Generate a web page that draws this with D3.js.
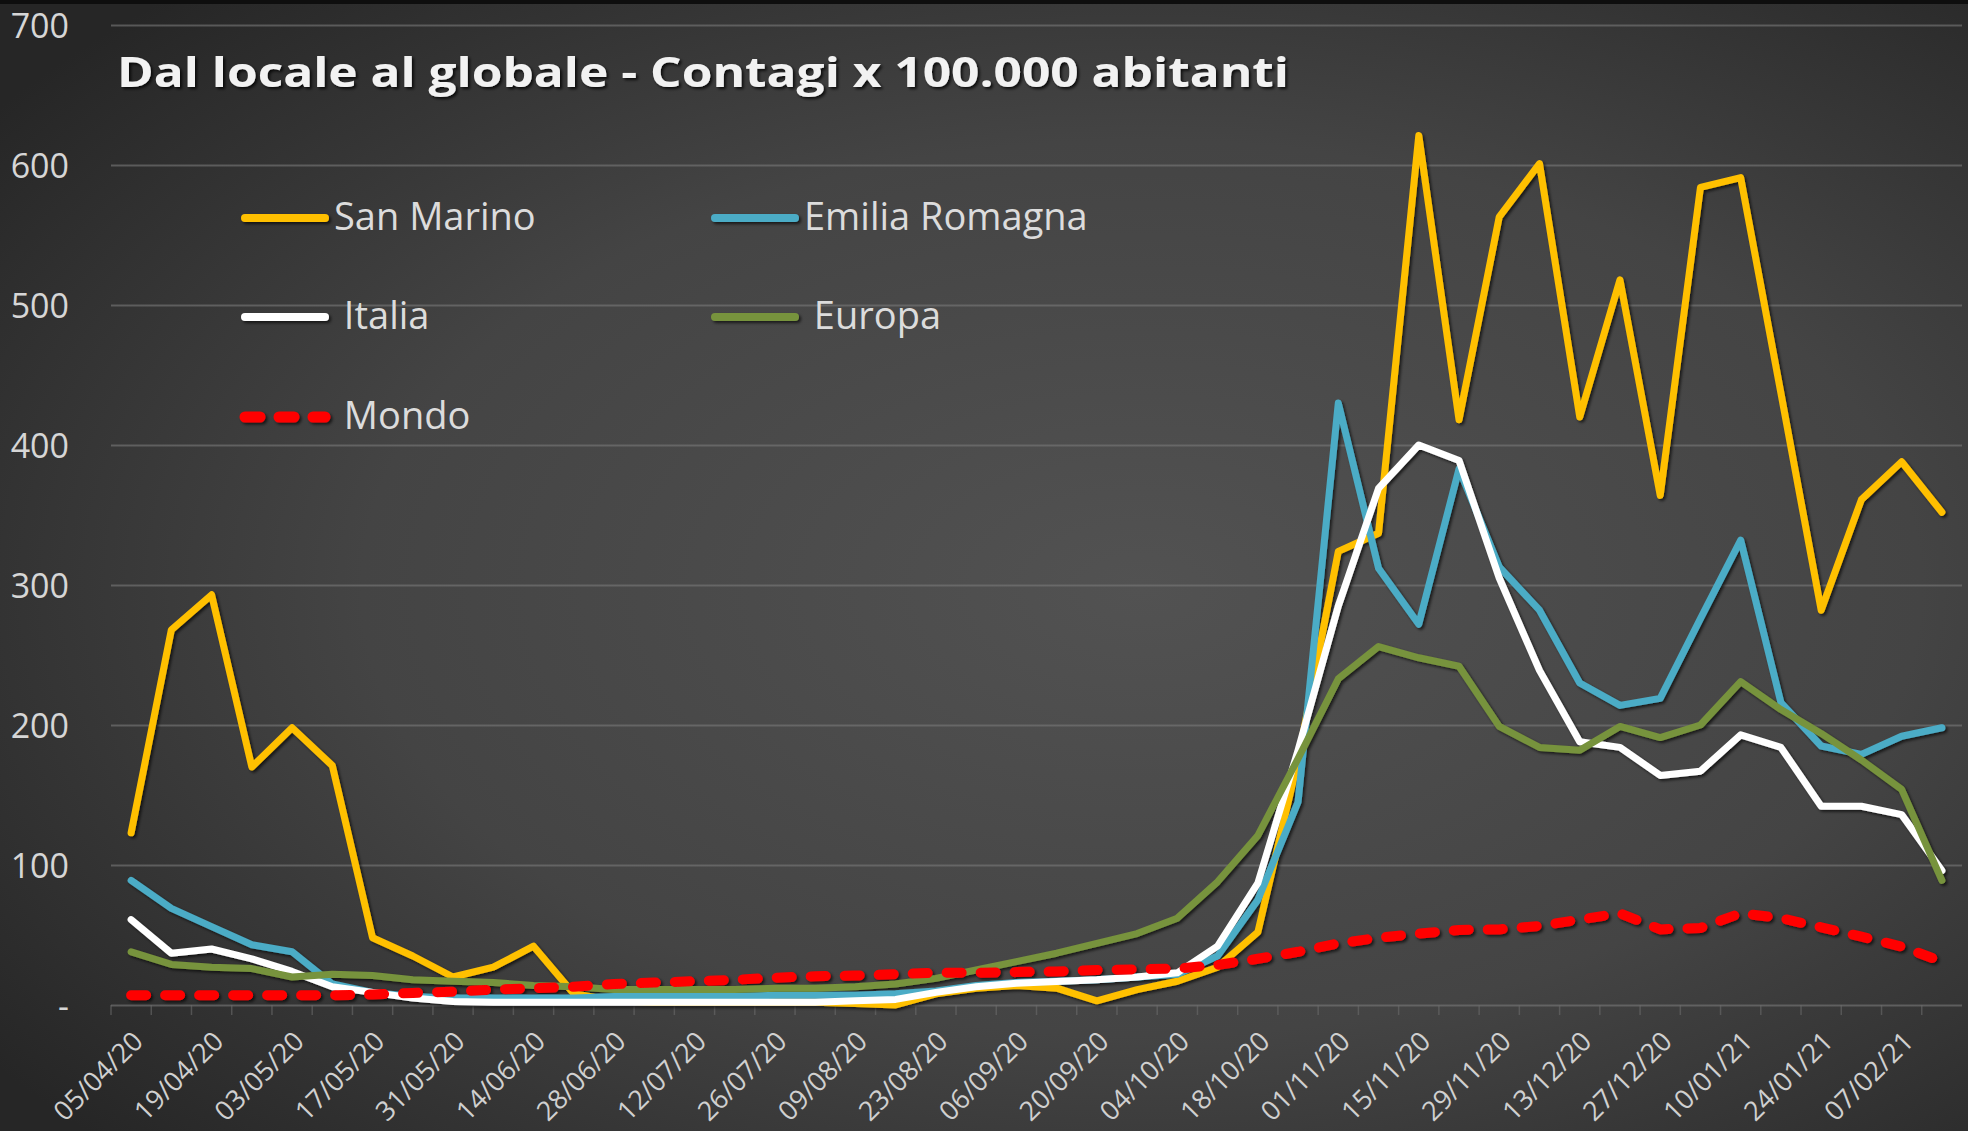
<!DOCTYPE html>
<html><head><meta charset="utf-8">
<script src="https://cdn.jsdelivr.net/npm/d3@7"></script>
<style>
html,body{margin:0;padding:0;background:#2b2b2b;}
svg{display:block;}
text{font-family:"Open Sans","Noto Sans",sans-serif;}
</style></head><body>
<svg id="chart" width="1968" height="1131"></svg>
<script>
// ---------- data ----------
const dates = ["05/04/20","12/04/20","19/04/20","26/04/20","03/05/20","10/05/20","17/05/20","24/05/20","31/05/20","07/06/20",
 "14/06/20","21/06/20","28/06/20","05/07/20","12/07/20","19/07/20","26/07/20","02/08/20","09/08/20","16/08/20",
 "23/08/20","30/08/20","06/09/20","13/09/20","20/09/20","27/09/20","04/10/20","11/10/20","18/10/20","25/10/20",
 "01/11/20","08/11/20","15/11/20","22/11/20","29/11/20","06/12/20","13/12/20","20/12/20","27/12/20","03/01/21",
 "10/01/21","17/01/21","24/01/21","31/01/21","07/02/21","14/02/21"];
const sanMarino = [123,268,293,170,198,171,48,35,20,27,42,8,3,2,2,2,2,2,1,0,8,12,14,12,3,11,17,27,52,175,324,337,621,418,563,601,420,518,364,584,591,437,282,361,388,352];
const emiliaRomagna = [89,69,56,43,38,15,9,6,5,5,5,5,6,6,6,6,7,7,7,8,10,14,16,17,18,20,22,35,75,145,430,312,272,383,313,282,230,214,219,276,332,216,185,179,192,198];
const italia = [61,37,40,33,24,13,9,5,2.5,2,2,2,2,2,2,2,2,2,3,4,9,13,15.5,16.7,18,20,23,42,87,182,285,369,400,389,305,239,188,184,164,167,193,184,142,142,136,96];
const europa = [38,29,27,26,20,22,21,18,17,16,14,13,11,11,11,11,12,12,13,15,19,25,31,37,44,51,62,88,121,176,233,256,248,242,199,184,182,199,191,200,231,211,194,175,154,89];
const mondo = [7,7,7,7,7,7,7.5,8.6,9.5,11,12,13,15,16,17,18,19.5,20.5,21,22,23,23,23.5,24,25,25.5,26,28.6,33,38,44,48,51,53.6,54,56.5,61,65.5,54,55,65.5,62,55.5,48.8,41.7,31];
const seriesNames = ["San Marino","Emilia Romagna","Italia","Europa","Mondo"];
const legendLabels = ["San Marino","Emilia Romagna"," Italia"," Europa"," Mondo"];
const yTicks = [0,100,200,300,400,500,600,700];
const xTickLabels = dates.filter((d,i)=>i%2===0);
const titleText = "Dal locale al globale - Contagi x 100.000 abitanti";

// ---------- styles ----------
const colors = ["#FFC000","#4BACC6","#FFFFFF","#77933C","#FF0000"];
const widths = [7,7,7,7,10];
const dashes = [null,null,null,null,"15 19"];

const W = 1968, H = 1131;
const plot = {left:111, right:1962, top:25, bottom:1005};

const svg = d3.select("#chart");
const defs = svg.append("defs");
const bg = defs.append("radialGradient").attr("id","bg").attr("cx","58%").attr("cy","52%").attr("r","72%");
bg.append("stop").attr("offset","0%").attr("stop-color","#525252");
bg.append("stop").attr("offset","55%").attr("stop-color","#444444");
bg.append("stop").attr("offset","100%").attr("stop-color","#262626");
const sh = defs.append("filter").attr("id","shadow").attr("filterUnits","userSpaceOnUse")
  .attr("x",0).attr("y",0).attr("width",W).attr("height",H);
sh.append("feDropShadow").attr("dx",2).attr("dy",2).attr("stdDeviation",1.8).attr("flood-color","#000").attr("flood-opacity",0.65);
const tsh = defs.append("filter").attr("id","tshadow").attr("filterUnits","userSpaceOnUse")
  .attr("x",0).attr("y",0).attr("width",W).attr("height",H);
tsh.append("feDropShadow").attr("dx",2).attr("dy",2).attr("stdDeviation",1.5).attr("flood-color","#000").attr("flood-opacity",0.8);

svg.append("rect").attr("width",W).attr("height",H).attr("fill","url(#bg)");
svg.append("rect").attr("width",W).attr("height",4).attr("fill","#0e0e0e");

const x = d3.scalePoint().domain(dates).range([plot.left, plot.right]).padding(0.5);
const y = d3.scaleLinear().domain([0,700]).range([plot.bottom, plot.top]);

// y axis + gridlines
const yAxis = svg.append("g").attr("transform",`translate(${plot.left},0)`)
  .call(d3.axisLeft(y).tickValues(yTicks).tickSize(-(plot.right-plot.left)).tickPadding(42)
    .tickFormat(d => d===0 ? "-" : d));
yAxis.select(".domain").remove();
yAxis.selectAll(".tick line").attr("stroke","#7a7a7a").attr("stroke-opacity",0.6).attr("stroke-width",2);
yAxis.selectAll(".tick text").attr("fill","#d6d6d6").attr("font-size",34)
  .attr("dy","0.36em");

// x axis
const xAxis = svg.append("g").attr("transform",`translate(0,${plot.bottom})`)
  .call(d3.axisBottom(x).tickValues(xTickLabels).tickSize(0));
xAxis.select(".domain").remove();
xAxis.selectAll(".tick text").attr("fill","#d0d0d0").attr("font-size",27)
  .attr("x",0).attr("y",0).attr("dy",0)
  .attr("text-anchor","end")
  .attr("transform","translate(13,38) rotate(-45)");
// faint category ticks
svg.append("g").selectAll("line").data(dates).join("line")
  .attr("x1",d=>x(d)-x.step()/2).attr("x2",d=>x(d)-x.step()/2)
  .attr("y1",plot.bottom).attr("y2",plot.bottom+10)
  .attr("stroke","#6a6a6a").attr("stroke-width",1.5).attr("stroke-opacity",0.6);

// lines
const seriesData = [sanMarino, emiliaRomagna, italia, europa, mondo];
const line = d3.line().x((d,i)=>x(dates[i])).y(d=>y(d));
const gLines = svg.append("g").attr("filter","url(#shadow)");
seriesData.forEach((vals,k)=>{
  gLines.append("path").datum(vals)
    .attr("d",line)
    .attr("fill","none")
    .attr("stroke",colors[k])
    .attr("stroke-width",widths[k])
    .attr("stroke-linejoin","round")
    .attr("stroke-linecap","round")
    .attr("stroke-dasharray",dashes[k]);
});

// title
svg.append("text").attr("x",117).attr("y",87)
  .attr("font-size",42).attr("font-weight","bold").attr("fill","#f2f2f2")
  .attr("filter","url(#tshadow)")
  .attr("textLength",1172).attr("lengthAdjust","spacingAndGlyphs")
  .text(titleText);

// legend
const legCols = [241, 711], legRows = [218, 317, 417], legLen = 88;
const legPos = [[0,0],[1,0],[0,1],[1,1],[0,2]];
const leg = svg.append("g");
seriesNames.forEach((name,k)=>{
  const lx = legCols[legPos[k][0]], ly = legRows[legPos[k][1]];
  const g = leg.append("g");
  g.append("line").attr("x1",lx+4).attr("x2",lx+legLen-4).attr("y1",ly).attr("y2",ly)
    .attr("stroke",colors[k]).attr("stroke-width",widths[k]+1)
    .attr("stroke-linecap","round").attr("stroke-dasharray",dashes[k])
    .attr("filter","url(#shadow)");
  g.append("text").attr("x",lx+legLen+5).attr("y",ly+12)
    .attr("font-size",38).attr("fill","#dcdcdc")
    .style("white-space","pre")
    .text(legendLabels[k]);
});
</script>
</body></html>
